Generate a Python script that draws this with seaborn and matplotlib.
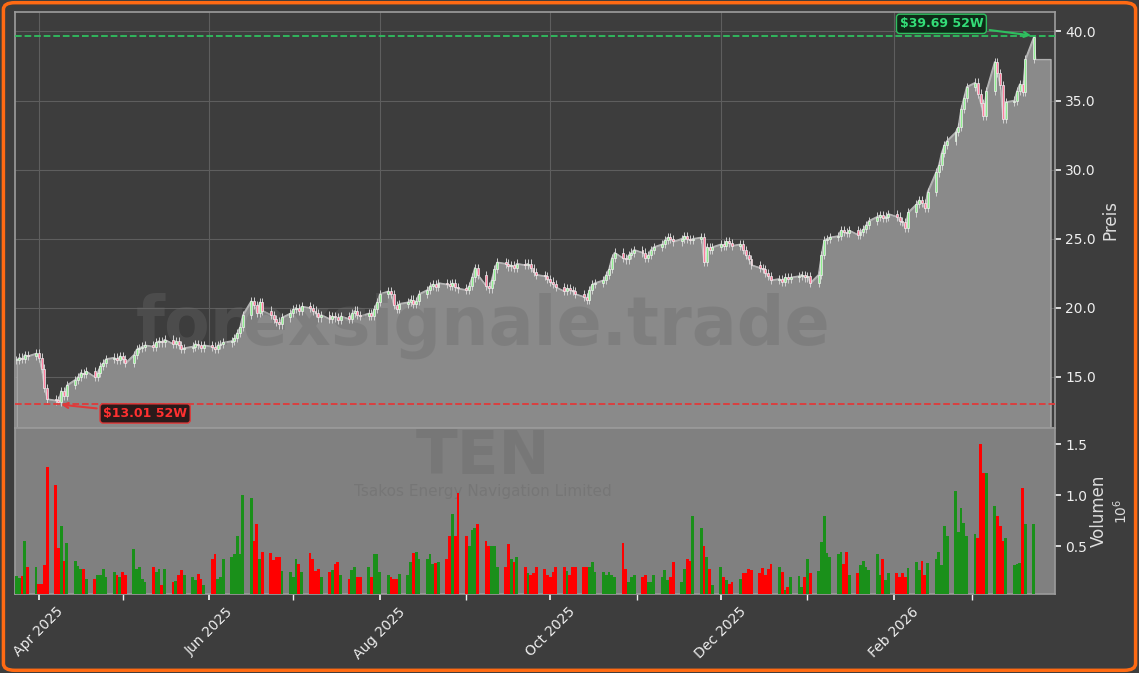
import numpy as np
import pandas as pd
import matplotlib
matplotlib.use("Agg")
import matplotlib.pyplot as plt
import matplotlib.dates as mdates
from matplotlib.patches import FancyBboxPatch, Rectangle
import seaborn as sns

start_date = "2025-03-24"
closes = [
    16.2,16.4,16.3,16.6,16.5, 16.7,16.4,15.6,14.2,13.4, 13.3,13.2,14.0,13.6,14.4,
    14.8,15.0,15.3,15.2,15.4, 15.0,15.3,15.8,16.0,16.3, 16.4,16.2,16.5,16.3,16.0,
    16.6,17.0,17.1,17.2,17.3, 17.2,17.5,17.6,17.5,17.7, 17.4,17.6,17.3,17.0,17.1,
    17.2,17.4,17.3,17.1,17.3, 17.2,17.0,17.3,17.4,17.5, 17.6,17.8,18.2,18.6,19.5,
    20.5,20.2,19.6,20.4,19.8, 19.5,19.2,19.0,18.8,19.3, 19.6,19.9,20.0,19.8,20.1,
    20.0,19.8,19.6,19.3,19.5, 19.2,19.4,19.3,19.1,19.4, 19.2,19.6,19.8,19.5,19.4,
    19.6,19.4,19.9,20.4,21.0, 21.2,21.0,20.2,19.9,20.3, 20.4,20.6,20.3,20.5,21.0,
    21.3,21.6,21.7,21.5,21.8, 21.7,21.6,21.8,21.5,21.4, 21.3,21.6,22.2,22.9,22.4,
    21.6,21.4,22.0,22.8,23.3, 23.2,23.0,23.1,22.9,23.2, 23.1,23.2,22.9,22.6,22.4,
    22.3,22.1,21.9,21.7,21.5, 21.2,21.4,21.3,21.2,21.0, 20.8,20.6,21.3,21.7,21.8,
    22.0,22.4,22.8,23.6,24.0, 23.6,23.5,23.8,24.0,24.2, 24.0,23.6,23.8,24.2,24.4,
    24.6,24.9,25.1,25.0,24.8, 25.0,25.2,25.0,24.9,25.0, 25.1,23.3,24.4,24.2,24.4,
    24.6,24.5,24.8,24.7,24.5, 24.6,24.2,23.8,23.5,23.1, 22.9,22.8,22.5,22.3,22.0,
    22.1,21.9,22.2,22.1,22.2, 22.3,22.4,22.2,22.3,21.8, 22.4,23.8,24.9,25.0,25.1,
    25.2,25.6,25.5,25.4,25.6, 25.3,25.5,25.7,26.0,26.3, 26.6,26.7,26.5,26.6,26.8,
    26.6,26.3,26.2,25.8,26.9, 27.5,27.8,27.6,27.2,28.4, 29.8,30.3,31.2,31.8,32.1,
    32.7,33.1,34.4,35.2,36.0, 36.3,35.5,34.8,33.9,35.7, 37.8,37.0,36.1,33.7,34.9,
    35.0,35.7,36.2,35.6,38.0, 39.6,
]
volumes = [
    0.21,0.19,0.21,0.55,0.30, 0.30,0.13,0.13,0.32,1.28, 1.10,0.48,0.70,0.36,0.53,
    0.36,0.31,0.28,0.28,0.18, 0.18,0.22,0.22,0.28,0.20, 0.25,0.22,0.20,0.25,0.22,
    0.47,0.28,0.30,0.18,0.15, 0.30,0.25,0.28,0.12,0.28, 0.15,0.16,0.22,0.27,0.22,
    0.20,0.17,0.23,0.18,0.12, 0.38,0.42,0.18,0.20,0.38, 0.40,0.42,0.60,0.42,1.00,
    0.97,0.55,0.72,0.38,0.44, 0.43,0.37,0.40,0.40,0.26, 0.25,0.20,0.38,0.33,0.25,
    0.43,0.38,0.26,0.28,0.20, 0.25,0.27,0.33,0.35,0.22, 0.18,0.27,0.30,0.20,0.20,
    0.30,0.20,0.42,0.42,0.25, 0.22,0.20,0.18,0.18,0.23, 0.22,0.35,0.43,0.44,0.38,
    0.38,0.42,0.33,0.34,0.35, 0.38,0.60,0.82,0.60,1.02, 0.60,0.50,0.66,0.68,0.72,
    0.55,0.50,0.50,0.50,0.30, 0.30,0.52,0.38,0.35,0.40, 0.30,0.24,0.22,0.24,0.30,
    0.28,0.22,0.20,0.25,0.30, 0.30,0.26,0.22,0.30,0.30, 0.30,0.30,0.30,0.35,0.25,
    0.25,0.22,0.25,0.22,0.20, 0.53,0.28,0.15,0.20,0.22, 0.20,0.22,0.15,0.15,0.22,
    0.20,0.27,0.17,0.20,0.35, 0.15,0.28,0.38,0.36,0.80, 0.68,0.50,0.40,0.28,0.12,
    0.30,0.20,0.17,0.13,0.15, 0.18,0.24,0.24,0.28,0.27, 0.24,0.29,0.22,0.28,0.33,
    0.30,0.25,0.07,0.10,0.20, 0.21,0.10,0.20,0.38,0.24, 0.26,0.54,0.80,0.43,0.40,
    0.42,0.44,0.33,0.44,0.22, 0.24,0.32,0.36,0.30,0.27, 0.42,0.22,0.38,0.17,0.24,
    0.24,0.20,0.24,0.20,0.29, 0.35,0.27,0.36,0.22,0.34, 0.38,0.44,0.32,0.70,0.60,
    1.04,0.64,0.88,0.73,0.60, 0.62,0.58,1.50,1.22,1.22, 0.90,0.80,0.70,0.55,0.58,
    0.32,0.33,0.34,1.07,0.72, 0.72,
]
low_52w = 13.01
high_52w = 39.69
fill_tail_value = 38.0
ticker = "TEN"
company = "Tsakos Energy Navigation Limited"
watermark = "forexsignale.trade"

dates = pd.bdate_range(start_date, periods=len(closes))
opens = [closes[0]] + closes[:-1]
highs = [max(o, c) + 0.3 for o, c in zip(opens, closes)]
lows = [min(o, c) - 0.3 for o, c in zip(opens, closes)]
highs[-1] = high_52w
lows[11] = low_52w
df = pd.DataFrame({"date": dates, "open": opens, "close": closes, "high": highs,
                   "low": lows, "volume": volumes})
df["x"] = mdates.date2num(df["date"])

sns.set_theme(style="dark")
BG = "#3d3d3d"
plt.rcParams["font.family"] = ["DejaVu Sans"]
fig = plt.figure(figsize=(11.39, 6.73), dpi=100, facecolor=BG)
fig.patches.append(FancyBboxPatch((0.003, 0.004), 0.994, 0.992, boxstyle="round,pad=0,rounding_size=0.01",
                                  transform=fig.transFigure, fill=False, edgecolor="#ff6a13", linewidth=2.5))
ax = fig.add_axes([0.013, 0.364, 0.913, 0.618])
axv = fig.add_axes([0.013, 0.117, 0.913, 0.247], sharex=ax)

for a in (ax, axv):
    for s in a.spines.values():
        s.set_color("#9a9a9a")
ax.set_facecolor(BG)
axv.set_facecolor("#808080")

# price
x_fill = list(df["x"]) + [df["x"].iloc[-1] + 0.5, df["x"].iloc[-1] + 6]
y_fill = list(df["close"]) + [fill_tail_value, fill_tail_value]
ax.fill_between(x_fill, 0, y_fill, color="#8a8a8a", zorder=1, edgecolor="#b0b0b0", linewidth=1)
sns.lineplot(x=df["x"], y=df["close"], ax=ax, color="#b5b5b5", linewidth=1, zorder=2)
up = df["close"] >= df["open"]
ax.vlines(df["x"], df["low"], df["high"], color="#d0d0d0", linewidth=0.7, zorder=3)
w = 0.7
for xi, o, c, u in zip(df["x"], df["open"], df["close"], up):
    h = max(abs(c - o), 0.1)
    ax.add_patch(Rectangle((xi - w / 2, min(o, c)), w, h, facecolor="#90ee90" if u else "#ff7f9f",
                           edgecolor="#f0f0f0", linewidth=0.5, zorder=4))
ax.axhline(low_52w, color="#e03a3a", linestyle="--", linewidth=1.3, zorder=5)
ax.axhline(high_52w, color="#2fbf5f", linestyle="--", linewidth=1.3, zorder=5)
x_low = df["x"].iloc[11]
ax.annotate(f"${low_52w:.2f} 52W", xy=(x_low, low_52w), xytext=(x_low + 16, 12.1),
            color="#ff3030", fontsize=9, fontweight="bold", zorder=6,
            bbox=dict(boxstyle="round,pad=0.25", fc="#2a1a1a", ec="#e03a3a"),
            arrowprops=dict(arrowstyle="->", color="#e03a3a", lw=1.5))
x_hi = df["x"].iloc[-1]
ax.annotate(f"${high_52w:.2f} 52W", xy=(x_hi, high_52w), xytext=(x_hi - 48, 40.3),
            color="#33dd77", fontsize=9, fontweight="bold", zorder=6,
            bbox=dict(boxstyle="round,pad=0.25", fc="#0f2a18", ec="#2fbf5f"),
            arrowprops=dict(arrowstyle="->", color="#2fbf5f", lw=1.5))
ax.text(0.45, 0.245, watermark, transform=ax.transAxes, ha="center", va="center",
        fontsize=48, fontweight="bold", color="#6a6a6a", alpha=0.35, zorder=2)
ax.set_ylim(11.3, 41.4)
ax.set_xlim(df["x"].iloc[0] - 0.6, df["x"].iloc[-1] + 7.5)
ax.yaxis.tick_right()
ax.yaxis.set_label_position("right")
ax.set_ylabel("Preis", color="#dddddd")
ax.set_yticks([15, 20, 25, 30, 35, 40])
ax.yaxis.set_major_formatter(matplotlib.ticker.FormatStrFormatter("%.1f"))
ax.tick_params(axis="y", colors="#eeeeee", labelsize=10, length=4, direction="out", right=True)
ax.grid(True, color="#5e5e5e", linewidth=0.8)
ax.xaxis.set_major_locator(mdates.MonthLocator())
ax.tick_params(axis="x", labelbottom=False, length=0)

# volume
vcol = ["#1a901a" if u else "#ff0000" for u in up]
axv.bar(df["x"], df["volume"], width=1.0, color=vcol, edgecolor="none", linewidth=0, zorder=3)
axv.text(0.45, 0.82, ticker, transform=axv.transAxes, ha="center", va="center",
         fontsize=44, fontweight="bold", color="#707070", alpha=0.5, zorder=1)
axv.text(0.45, 0.62, company, transform=axv.transAxes, ha="center", va="center",
         fontsize=11, color="#707070", alpha=0.6, zorder=1)
axv.set_ylim(0.03, 1.66)
axv.yaxis.tick_right()
axv.yaxis.set_label_position("right")
axv.set_yticks([0.5, 1.0, 1.5])
axv.set_ylabel("Volumen", color="#dddddd", labelpad=2)
axv.text(1.063, 0.5, r"$10^6$", transform=axv.transAxes, rotation=90, va="center",
         ha="center", color="#dddddd", fontsize=10)
axv.tick_params(axis="y", colors="#eeeeee", labelsize=10, length=4, right=True)
axv.grid(False)
axv.xaxis.set_major_locator(mdates.MonthLocator(bymonth=[2, 4, 6, 8, 10, 12]))
axv.xaxis.set_minor_locator(mdates.MonthLocator())
axv.xaxis.set_major_formatter(mdates.DateFormatter("%b %Y"))
axv.tick_params(axis="x", which="both", colors="#eeeeee", length=4, bottom=True, labelsize=10)
plt.setp(axv.get_xticklabels(), rotation=45, ha="center")

fig.savefig("out.png", dpi=100, facecolor=BG)
